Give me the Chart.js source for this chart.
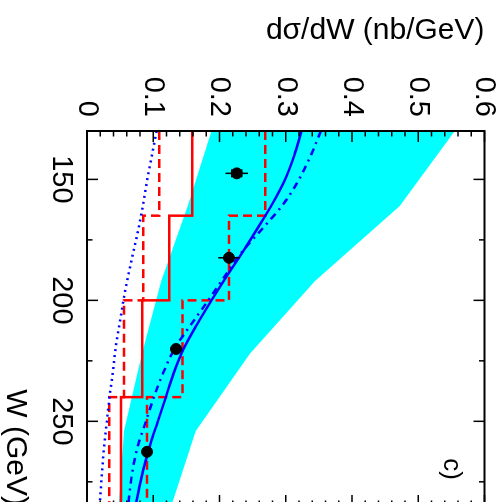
<!DOCTYPE html>
<html>
<head>
<meta charset="utf-8">
<script src="https://cdn.jsdelivr.net/npm/chart.js@4"></script>
<style>
  html, body { margin: 0; padding: 0; width: 502px; height: 502px; overflow: hidden; background: #fff; }
  /* the whole figure is printed turned a quarter turn clockwise */
  #wrap { position: absolute; left: 0; top: 0; width: 520px; height: 502px;
          transform-origin: 0 0; transform: translate(502px, 0) rotate(90deg); }
</style>
</head>
<body>
<div id="wrap"><canvas id="chart" width="520" height="502"></canvas></div>
<script>
// W (GeV) grid for the model curves
const curveW = [130, 140, 150, 160, 170, 180, 190, 200, 210, 220, 230, 240, 250, 260, 270, 285];
const solidCurve   = [0.324, 0.313, 0.299, 0.280, 0.258, 0.235, 0.211, 0.188, 0.166, 0.146, 0.131, 0.119, 0.107, 0.095, 0.085, 0.073];
const dashDotCurve = [0.353, 0.338, 0.320, 0.297, 0.266, 0.234, 0.208, 0.183, 0.157, 0.132, 0.115, 0.101, 0.089, 0.077, 0.069, 0.062];
const dottedCurve  = [0.105, 0.098, 0.091, 0.085, 0.078, 0.070, 0.062, 0.055, 0.049, 0.043, 0.039, 0.034, 0.030, 0.026, 0.023, 0.019];

// cyan uncertainty band
const bandW    = [130, 161, 192, 222, 254, 285];
const bandLow  = [0.188, 0.152, 0.112, 0.083, 0.056, 0.048];
const bandHigh = [0.555, 0.472, 0.344, 0.246, 0.164, 0.127];

// histograms (bin edges in W)
const histEdges    = [130, 165, 200, 240, 285];
const histSolid    = [0.159, 0.124, 0.0835, 0.0513];
const histDashHigh = [0.269, 0.2145, 0.144, 0.0906];
const histDashLow  = [0.109, 0.085, 0.0558, 0.0337];

// measured points
const dataW   = [147.5, 182.4, 220.1, 262.6];
const dataV   = [0.226, 0.2143, 0.1344, 0.0906];
const errTot  = [0.017, 0.016, 0.009, 0.006];
const errStat = [0.0075, 0.005, 0.004, 0.003];

// axes
const wTickLabels = [150, 200, 250];
const wMinorTicks = [175, 225, 275];
const valueTicks  = [0, 0.1, 0.2, 0.3, 0.4, 0.5, 0.6];

const toPts = (xs, ys) => xs.map((x, i) => ({ x, y: ys[i] }));
const stepPts = (edges, vals) => edges.map((x, i) => ({ x, y: vals[Math.min(i, vals.length - 1)] }));

Chart.defaults.font.family = '"Liberation Sans", Arial, sans-serif';
Chart.defaults.color = '#000';

const POINTS_IDX = 7;

const framePlugin = {
  id: 'frame',
  beforeDatasetDraw(chart, args) {
    if (args.index !== POINTS_IDX) return;
    const { ctx, scales: { x, y } } = chart;
    ctx.save();
    ctx.strokeStyle = '#000';
    ctx.lineWidth = 1.5;
    dataW.forEach((w, i) => {
      const px = x.getPixelForValue(w);
      const y1 = y.getPixelForValue(dataV[i] - errTot[i]);
      const y2 = y.getPixelForValue(dataV[i] + errTot[i]);
      ctx.beginPath(); ctx.moveTo(px, y1); ctx.lineTo(px, y2); ctx.stroke();
      [dataV[i] - errStat[i], dataV[i] + errStat[i]].forEach(v => {
        const py = y.getPixelForValue(v);
        ctx.beginPath(); ctx.moveTo(px - 4, py); ctx.lineTo(px + 4, py); ctx.stroke();
      });
    });
    ctx.restore();
  },
  afterDraw(chart) {
    const { ctx, chartArea: a, scales: { x, y } } = chart;
    ctx.save();
    ctx.strokeStyle = '#000';
    ctx.lineWidth = 1.5;
    for (let i = 0; i <= 30; i++) {
      const py = y.getPixelForValue(i * 0.02);
      const len = i % 5 === 0 ? 11 : 5.5;
      ctx.beginPath();
      ctx.moveTo(a.left, py); ctx.lineTo(a.left + len, py);
      ctx.moveTo(a.right, py); ctx.lineTo(a.right - len, py);
      ctx.stroke();
    }
    wTickLabels.concat(wMinorTicks).forEach(w => {
      const px = x.getPixelForValue(w);
      const len = wTickLabels.includes(w) ? 11 : 5.5;
      ctx.beginPath();
      ctx.moveTo(px, a.bottom); ctx.lineTo(px, a.bottom - len);
      ctx.moveTo(px, a.top); ctx.lineTo(px, a.top + len);
      ctx.stroke();
    });
    ctx.lineWidth = 2;
    ctx.strokeRect(a.left, a.top, a.right - a.left, a.bottom - a.top);
    ctx.fillStyle = '#000';
    ctx.font = '26px "Liberation Sans", Arial, sans-serif';
    ctx.textAlign = 'right';
    ctx.textBaseline = 'middle';
    ctx.fillText('c)', a.right - 26, a.top + 33);
    ctx.restore();
  }
};

new Chart(document.getElementById('chart'), {
  type: 'line',
  data: {
    datasets: [
      { data: toPts(bandW, bandLow), borderWidth: 0, pointRadius: 0, fill: false, order: 10 },
      { data: toPts(bandW, bandHigh), borderWidth: 0, pointRadius: 0, fill: '-1',
        backgroundColor: '#00ffff', order: 9 },
      { data: stepPts(histEdges, histSolid), stepped: 'before', borderColor: '#ff0000',
        borderWidth: 2.5, pointRadius: 0, order: 6 },
      { data: stepPts(histEdges, histDashHigh), stepped: 'before', borderColor: '#ff0000',
        borderWidth: 2.5, borderDash: [9, 5], pointRadius: 0, order: 6 },
      { data: stepPts(histEdges, histDashLow), stepped: 'before', borderColor: '#ff0000',
        borderWidth: 2.5, borderDash: [9, 5], pointRadius: 0, order: 6 },
      { data: toPts(curveW, solidCurve), borderColor: '#0000ff', borderWidth: 2.5,
        pointRadius: 0, cubicInterpolationMode: 'monotone', order: 3 },
      { data: toPts(curveW, dashDotCurve), borderColor: '#0000ff', borderWidth: 2.5,
        borderDash: [7, 5, 2, 5], pointRadius: 0, cubicInterpolationMode: 'monotone', order: 3 },
      { data: toPts(dataW, dataV), showLine: false, pointRadius: 5.5, pointHoverRadius: 5.5,
        pointBackgroundColor: '#000', pointBorderColor: '#000', order: 1 },
      { data: toPts(curveW, dottedCurve), borderColor: '#0000ff', borderWidth: 2.5,
        borderDash: [2, 4], pointRadius: 0, cubicInterpolationMode: 'monotone', order: 3 }
    ]
  },
  options: {
    responsive: false,
    animation: false,
    events: [],
    layout: { padding: { left: 0, right: 14, top: 17.5, bottom: 0 } },
    plugins: { legend: { display: false }, tooltip: { enabled: false } },
    scales: {
      x: {
        type: 'linear', min: 130, max: 285,
        afterBuildTicks: s => { s.ticks = wTickLabels.map(v => ({ value: v })); },
        afterFit: s => { s.height = 87; s.paddingLeft = 0; s.paddingRight = 0; },
        grid: { display: false, drawTicks: false },
        border: { display: false },
        ticks: { padding: 11, maxRotation: 0, font: { size: 29, lineHeight: 1 }, callback: v => String(v) },
        title: { display: true, text: 'W (GeV)', align: 'end', font: { size: 30, lineHeight: 1 },
                 padding: { top: 0, bottom: 0 } }
      },
      y: {
        type: 'linear', min: 0, max: 0.6,
        afterBuildTicks: s => { s.ticks = valueTicks.map(v => ({ value: v })); },
        afterFit: s => { s.width = 131; s.paddingTop = 0; s.paddingBottom = 0; },
        grid: { display: false, drawTicks: false },
        border: { display: false },
        ticks: { padding: 14, font: { size: 29, lineHeight: 1 }, callback: v => String(+v.toFixed(1)) },
        title: { display: true, text: 'dσ/dW (nb/GeV)', align: 'end', font: { size: 30, lineHeight: 1.2 },
                 padding: { top: 13, bottom: 0 } }
      }
    }
  },
  plugins: [framePlugin]
});
</script>
</body>
</html>
